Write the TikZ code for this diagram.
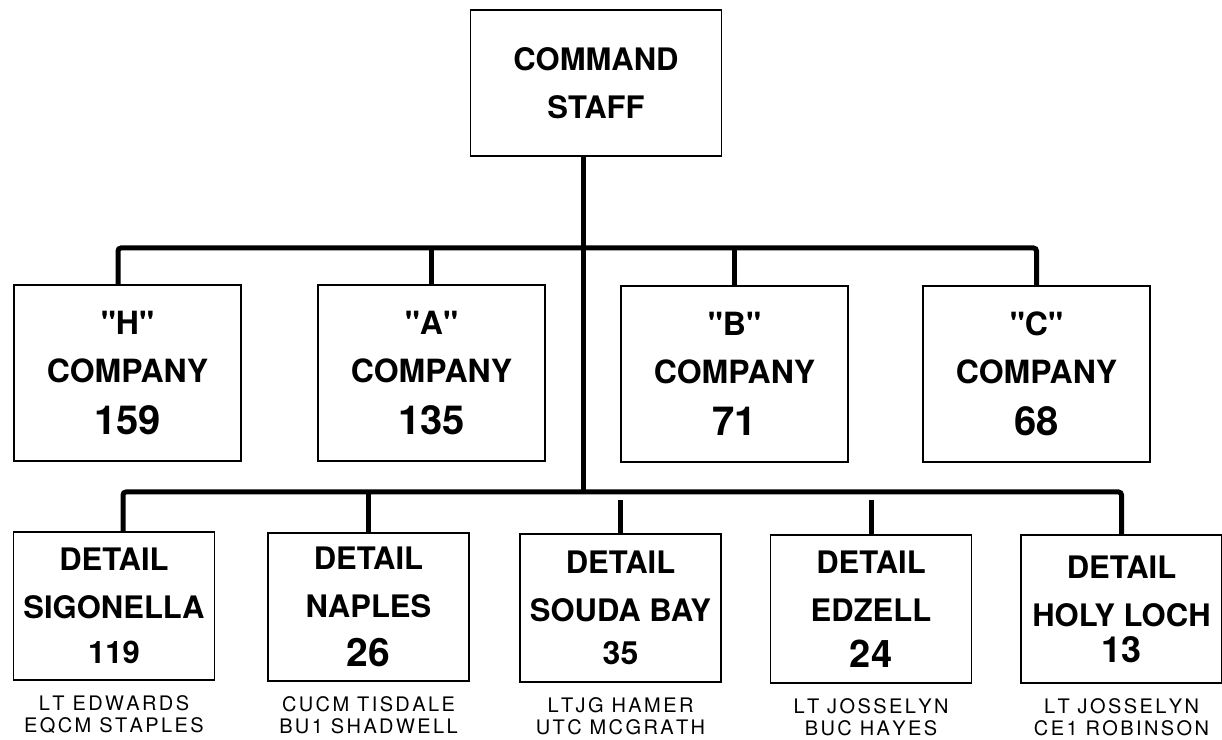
\documentclass[tikz,border=0pt]{standalone}
\usepackage{fontspec}
\setmainfont{TeX Gyre Heros}
\usetikzlibrary{positioning}

\newcommand{\detnum}[2]{{\fontsize{#1}{48}\selectfont #2}}
\ExplSyntaxOn
\NewDocumentCommand{\tracked}{m}
  {
    \seq_set_split:Nnn \l_tmpa_seq { ~ } {#1}
    \seq_map_inline:Nn \l_tmpa_seq
      { \tl_map_inline:nn {##1} { ####1 \kern 2.4pt } \c_space_tl }
    \unskip \unkern
  }
\ExplSyntaxOff

\begin{document}
\begin{tikzpicture}[
        x = 1pt, y = 1pt,
        node distance = 15pt,
        box/.style = {
                rectangle,
                draw,
                line width=1.6pt,
                align=center,
                inner sep=0pt,
            },
        cmdbox/.style = {
                box,
                minimum width=251pt,
                minimum height=146pt,
                font=\bfseries\fontsize{31}{48}\selectfont,
            },
        cobox/.style = {
                box,
                minimum width=227pt,
                minimum height=176pt,
                font=\bfseries\fontsize{32}{48}\selectfont,
            },
        detbox/.style = {
                box,
                minimum width=201pt,
                minimum height=148pt,
                font=\bfseries\fontsize{31}{48}\selectfont,
            },
        names/.style = {
                align=center,
                inner sep=0pt,
                font=\fontsize{20}{22}\selectfont,
            },
        bus/.style = {
                line width=5pt,
                rounded corners=3pt,
            },
    ]
    \useasboundingbox (0,0) rectangle (1222,739);

    \node[cmdbox] (cmd) at (596,656) {COMMAND\\STAFF};

    \foreach \n/\x/\y/\num in {
            H/127.5/366/159,
            A/431.5/366/135,
            B/734.5/365/71,
            C/1036.5/365/68
        }
    \node[cobox] (co\n) at (\x,\y)
        {\textquotedbl\n\textquotedbl\\COMPANY\\[4pt]{\fontsize{40}{48}\selectfont\num}};

    % details
    \node[detbox] (dSig) at (114,133)    {DETAIL\\SIGONELLA\\[-3pt]\detnum{31}{119}};
    \node[detbox] (dNap) at (368.5,132)  {DETAIL\\NAPLES\\[1pt]\detnum{39}{26}};
    \node[detbox] (dSou) at (620.5,131)  {DETAIL\\SOUDA BAY\\[-5pt]\detnum{32}{35}};
    \node[detbox] (dEdz) at (871,130)    {DETAIL\\EDZELL\\[-2pt]\detnum{38}{24}};
    \node[detbox] (dHol) at (1121.5,130) {DETAIL\\HOLY LOCH\\[-12pt]\detnum{36}{13}};

    \node[names, below=of dSig] (wSig) {\tracked{LT EDWARDS}\\\tracked{EQCM STAPLES}};
    \node[names, below=of dNap] (wNap) {\tracked{CUCM TISDALE}\\\tracked{BU1 SHADWELL}};
    \node[names, below=of dSou] (wSou) {\tracked{LTJG HAMER}\\\tracked{UTC MCGRATH}};
    \node[names, below=of dEdz] (wEdz) {\tracked{LT JOSSELYN}\\\tracked{BUC HAYES}};
    \node[names, below=of dHol] (wHol) {\tracked{LT JOSSELYN}\\\tracked{CE1 ROBINSON}};

    % bus lines
    \coordinate (top) at (583,491);
    \coordinate (low) at (583,247);
    \draw[bus] (cmd.south -| top) -- (low);
    \draw[bus] ([xshift=-9.5pt]coH.north) |- (top) -| (coC.north);
    \draw[bus] (coA.north) -- (coA.north |- top);
    \draw[bus] (coB.north) -- (coB.north |- top);
    \draw[bus] ([xshift=9pt]dSig.north) |- (low) -| (dHol.north);
    \draw[bus] (dNap.north) -- (dNap.north |- low);
    \draw[bus] (dSou.north) -- ([yshift=-8pt]dSou.north |- low);
    \draw[bus] (dEdz.north) -- ([yshift=-8pt]dEdz.north |- low);
\end{tikzpicture}
\end{document}
